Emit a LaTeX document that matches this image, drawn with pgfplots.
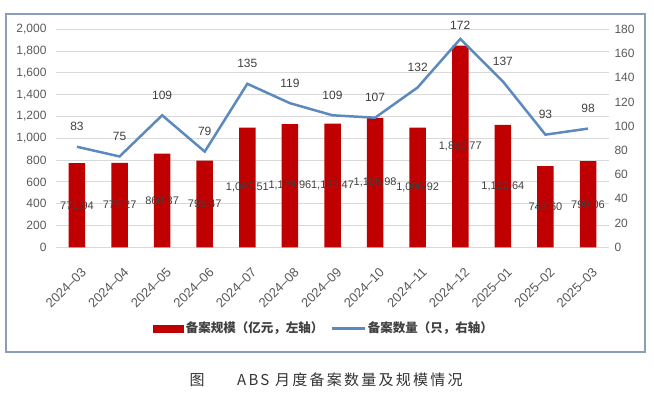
\documentclass[border=0pt]{standalone}
\usepackage{fontspec}
\setmainfont{Liberation Sans}
\newfontfamily\cjk{Noto Sans CJK SC}
\newfontfamily\cjkcap[LetterSpace=15]{Noto Sans CJK SC}
\usepackage{pgfplots}
\pgfplotsset{compat=1.18}
\definecolor{barred}{RGB}{192,0,0}
\definecolor{lineblue}{RGB}{92,137,190}
\definecolor{gridgray}{RGB}{217,217,217}
\definecolor{framec}{RGB}{140,158,182}
\definecolor{txt}{RGB}{89,89,89}
\definecolor{lbl}{RGB}{64,64,64}
\begin{document}
\begin{tikzpicture}[x=1pt,y=1pt]
\path[use as bounding box] (0,0) rectangle (654,396);
\draw[framec, line width=1.1pt] (6,44) rectangle (645,382);
\begin{axis}[
  at={(55.7pt,148.7pt)}, anchor=south west,
  scale only axis, width=553.6pt, height=218pt,
  xmin=-0.5, xmax=12.5, ymin=0, ymax=2000,
  ytick={0,200,...,2000},
  xtick={0,...,12},
  xticklabels={2024--03,2024--04,2024--05,2024--06,2024--07,2024--08,2024--09,2024--10,2024--11,2024--12,2025--01,2025--02,2025--03},
  axis line style={draw=none},
  major tick style={draw=none},
  ymajorgrids, grid style={gridgray, line width=0.8pt},
  scaled y ticks=false,
  /pgf/number format/1000 sep={,},
  /pgf/number format/assume math mode=true,
  yticklabel style={font=\fontsize{12}{12}\selectfont, text=txt, anchor=east, inner sep=0pt, xshift=-9pt},
  xticklabel style={font=\fontsize{13}{13}\selectfont, text=txt, rotate=45, anchor=north east, inner sep=0pt, xshift=-8pt, yshift=-13pt},
  ybar, bar width=16.5pt,
]
\addplot[fill=barred, draw=none,
  point meta=y,
  visualization depends on={rawy \as \rawy},
  nodes near coords={\pgfmathprintnumber[fixed,fixed zerofill,precision=2,1000 sep={,}]{\pgfplotspointmeta}},
  every node near coord/.append style={anchor=center, inner sep=0pt, yshift={-0.0545*\rawy*1pt}, font=\fontsize{11}{11}\selectfont, text=lbl},
] coordinates {
(0,771.94) (1,775.27) (2,860.37) (3,795.47) (4,1097.51) (5,1129.96) (6,1135.47)
(7,1186.98) (8,1096.92) (9,1850.77) (10,1122.64) (11,743.60) (12,790.06)
};
\end{axis}
\begin{axis}[
  at={(55.7pt,148.7pt)}, anchor=south west,
  scale only axis, width=553.6pt, height=218pt,
  xmin=-0.5, xmax=12.5, ymin=0, ymax=180,
  ytick={0,20,...,180},
  axis y line*=right, axis x line=none,
  axis line style={draw=none},
  major tick style={draw=none},
  /pgf/number format/assume math mode=true,
  yticklabel style={font=\fontsize{12}{12}\selectfont, text=txt, anchor=west, inner sep=0pt, xshift=5pt},
  legend style={at={(axis description cs:0.485,0)}, anchor=center, yshift=-81pt, draw=none, fill=none,
    legend columns=2, font=\cjk\bfseries\fontsize{12.5}{12.5}\selectfont, text=lbl,
    /tikz/every even column/.append style={column sep=5pt}},
  legend cell align=left,
]
\addlegendimage{legend image code/.code={\fill[barred] (0pt,-3.5pt) rectangle (30pt,3.5pt);}}
\addlegendentry{备案规模（亿元，左轴）}
\addplot[lineblue, line width=2.5pt, mark=none,
  nodes near coords,
  visualization depends on={rawy \as \rawy},
  every node near coord/.append style={anchor=center, inner sep=0pt, yshift={(\rawy>170 ? 14 : 20)*1pt}, font=\fontsize{12}{12}\selectfont, text=lbl},
  legend image code/.code={\draw[lineblue, line width=2.5pt] (0pt,0pt) -- (33pt,0pt);},
] coordinates {
(0,83) (1,75) (2,109) (3,79) (4,135) (5,119) (6,109) (7,107) (8,132) (9,172) (10,137) (11,93) (12,98)
};
\addlegendentry{备案数量（只，右轴）}
\end{axis}
\node[font=\cjk\fontsize{15}{15}\selectfont, text=black!80] at (197,16) {图};
\node[font=\cjkcap\fontsize{15}{15}\selectfont, text=black!80, anchor=west, inner sep=0pt] at (237,16) {ABS 月度备案数量及规模情况};
\end{tikzpicture}
\end{document}
